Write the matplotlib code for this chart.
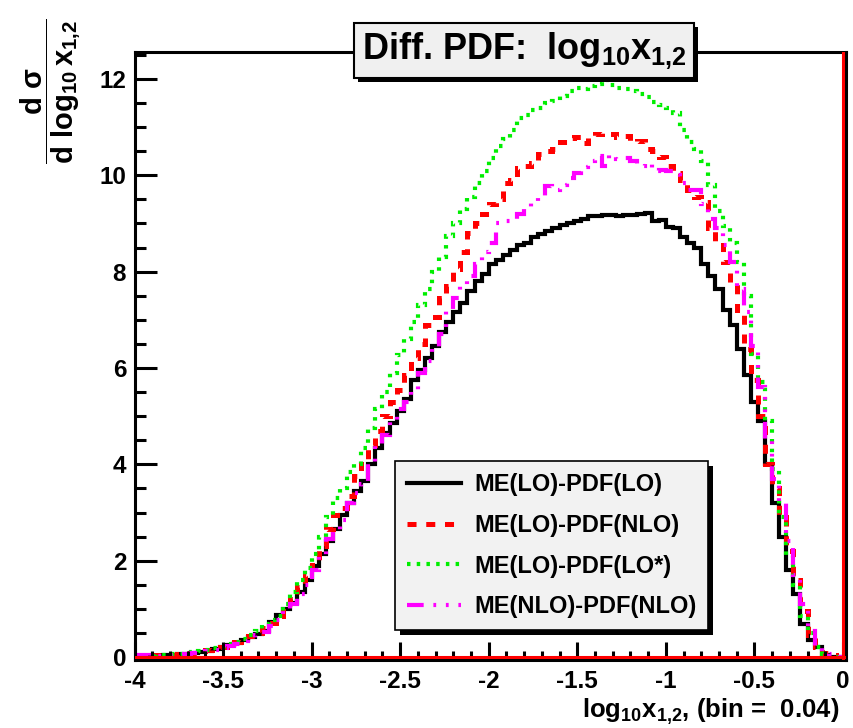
import numpy as np
import matplotlib
matplotlib.use("Agg")
import matplotlib.pyplot as plt
from matplotlib.lines import Line2D
from matplotlib.patches import Rectangle
from matplotlib.ticker import MultipleLocator, FormatStrFormatter
from matplotlib.transforms import IdentityTransform

# histogram range, 100 bins of 0.04
x_min, x_max, bin_width = -4.0, 0.0, 0.04

lo_lo = [0.02, 0.02, 0.03, 0.03, 0.04, 0.05, 0.06, 0.07, 0.09, 0.11, 0.13, 0.17, 0.22, 0.25, 0.30, 0.36, 0.42, 0.48, 0.55, 0.72, 0.88, 1.00, 1.12, 1.35,
         1.60, 1.90, 2.15, 2.40, 2.65, 2.95, 3.20, 3.45, 3.65, 4.00, 4.35, 4.65, 4.85, 5.10, 5.35, 5.75, 5.95, 6.20, 6.45, 6.75, 6.95, 7.17, 7.35, 7.60, 7.80, 7.95,
         8.15, 8.25, 8.35, 8.45, 8.55, 8.60, 8.72, 8.78, 8.85, 8.90, 8.97, 9.02, 9.06, 9.10, 9.15, 9.15, 9.17, 9.17, 9.15, 9.18, 9.17, 9.20, 9.22, 9.05, 9.08,
         8.92, 8.90, 8.72, 8.60, 8.50, 8.15, 7.90, 7.65, 7.20, 6.90, 6.40, 5.85, 5.30, 4.90, 4.00, 3.20, 2.50, 1.80, 1.30, 0.68, 0.35, 0.20, 0.05, 0.00, 0.00]

lo_nlo = [0.03, 0.02, 0.03, 0.04, 0.04, 0.05, 0.06, 0.08, 0.09, 0.12, 0.14, 0.17, 0.21, 0.26, 0.31, 0.35, 0.43, 0.50, 0.60, 0.70, 0.85, 1.05, 1.20, 1.45,
          1.70, 2.00, 2.30, 2.65, 2.95, 3.10, 3.35, 3.75, 4.10, 4.40, 4.70, 5.00, 5.30, 5.55, 5.85, 6.20, 6.50, 6.90, 7.05, 7.45, 7.70, 8.05, 8.40, 8.80, 9.00, 9.20,
          9.40, 9.50, 9.85, 9.90, 10.15, 10.20, 10.25, 10.45, 10.50, 10.55, 10.70, 10.78, 10.80, 10.68, 10.80, 10.85, 10.88, 10.85, 10.80, 10.82, 10.70, 10.72, 10.55, 10.50, 10.38,
          10.20, 10.05, 9.90, 9.70, 9.55, 9.45, 8.90, 8.55, 8.20, 7.75, 7.20, 6.40, 5.75, 5.00, 4.00, 3.50, 2.90, 2.20, 1.60, 0.95, 0.45, 0.20, 0.08, 0.05, 0.00]

lo_lostar = [0.02, 0.03, 0.03, 0.04, 0.05, 0.06, 0.07, 0.08, 0.10, 0.12, 0.15, 0.18, 0.22, 0.27, 0.32, 0.38, 0.45, 0.55, 0.68, 0.78, 0.85, 1.10, 1.35, 1.60,
             1.85, 2.15, 2.50, 2.90, 3.30, 3.50, 3.85, 4.00, 4.35, 4.75, 5.15, 5.50, 5.90, 6.27, 6.60, 6.95, 7.30, 7.65, 8.00, 8.30, 8.75, 9.00, 9.30, 9.55, 9.85, 10.10,
             10.35, 10.60, 10.75, 10.95, 11.20, 11.25, 11.35, 11.40, 11.50, 11.55, 11.65, 11.75, 11.82, 11.80, 11.85, 11.90, 11.98, 11.88, 11.82, 11.80, 11.75, 11.68, 11.62, 11.52, 11.45,
             11.40, 11.30, 10.95, 10.70, 10.55, 10.30, 9.80, 9.25, 8.95, 8.60, 8.20, 7.50, 6.30, 5.70, 4.90, 3.90, 2.90, 2.10, 1.50, 0.85, 0.50, 0.20, 0.06, 0.02, 0.00]

nlo_nlo = [0.05, 0.04, 0.03, 0.03, 0.04, 0.05, 0.05, 0.07, 0.08, 0.10, 0.12, 0.15, 0.19, 0.23, 0.28, 0.33, 0.40, 0.45, 0.52, 0.65, 0.78, 0.95, 1.10, 1.30,
           1.50, 1.80, 2.10, 2.45, 2.60, 2.85, 3.20, 3.40, 3.60, 4.00, 4.40, 4.60, 4.90, 5.15, 5.30, 5.55, 5.90, 6.15, 6.40, 6.70, 7.20, 7.45, 7.70, 7.90, 8.15, 8.40,
           8.60, 9.00, 9.05, 9.10, 9.20, 9.30, 9.45, 9.55, 9.77, 9.70, 9.80, 9.95, 10.05, 10.17, 10.30, 10.40, 10.20, 10.43, 10.33, 10.35, 10.30, 10.20, 10.25, 10.10, 10.12,
           10.10, 10.00, 9.85, 9.70, 9.70, 9.40, 9.10, 8.90, 8.55, 8.20, 7.65, 7.17, 6.45, 5.60, 4.50, 3.70, 3.20, 2.40, 1.70, 1.10, 0.55, 0.20, 0.08, 0.06, 0.00]

labels = ["ME(LO)-PDF(LO)", "ME(LO)-PDF(NLO)", "ME(LO)-PDF(LO*)", "ME(NLO)-PDF(NLO)"]
series = [lo_lo, lo_nlo, lo_lostar, nlo_nlo]

styles = [
    dict(color="black", lw=3.0, ls="-"),
    dict(color="red", lw=3.6, ls=(0, (6.5, 7))),
    dict(color="#00ee00", lw=3.0, ls=(0, (2.5, 4.5))),
    dict(color="magenta", lw=3.0, ls=(0, (12, 7, 2, 7, 2, 7))),
]

plt.rcParams["font.family"] = ["Liberation Sans", "DejaVu Sans"]
plt.rcParams["font.weight"] = "bold"
plt.rcParams["axes.unicode_minus"] = False
plt.rcParams["lines.scale_dashes"] = False
plt.rcParams["mathtext.fontset"] = "custom"
plt.rcParams["mathtext.rm"] = "Liberation Sans:bold"
plt.rcParams["mathtext.it"] = "Liberation Sans:bold"
plt.rcParams["mathtext.bf"] = "Liberation Sans:bold"

fig = plt.figure(figsize=(8.54, 7.28), dpi=100)
ax = fig.add_axes([0.1575, 0.0934, 0.8337, 0.8352])

edges = np.linspace(x_min, x_max, len(lo_lo) + 1)
for vals, st in zip(series, styles):
    ax.stairs(vals, edges, color=st["color"], linewidth=st["lw"], linestyle=st["ls"])

# red histogram frame line along zero and right edge
ax.axhline(0, color="red", lw=2.2, zorder=3)
ax.axvline(0, color="red", lw=2.2, zorder=3)

ax.set_xlim(-4, 0.02)
ax.set_ylim(-0.06, 12.56)
ax.xaxis.set_major_locator(MultipleLocator(0.5))
ax.xaxis.set_minor_locator(MultipleLocator(0.1))
ax.xaxis.set_major_formatter(FormatStrFormatter("%g"))
ax.yaxis.set_major_locator(MultipleLocator(2))
ax.yaxis.set_minor_locator(MultipleLocator(0.5))
ax.yaxis.set_major_formatter(FormatStrFormatter("%g"))
ax.tick_params(axis="x", which="major", direction="in", length=13, width=2.2, labelsize=17.5, pad=7)
ax.tick_params(axis="x", which="minor", direction="in", length=6.5, width=2.2)
ax.tick_params(axis="y", which="major", direction="in", length=16, width=2.2, labelsize=17.5, pad=6)
ax.tick_params(axis="y", which="minor", direction="in", length=8, width=2.2)
for lab in ax.get_xticklabels() + ax.get_yticklabels():
    lab.set_fontweight("bold")
for sp in ax.spines.values():
    sp.set_linewidth(2.2)

ax.set_xlabel(r"log$_{10}$x$_{1{,}2}$, (bin =  0.04)", fontsize=18.5, fontweight="bold", ha="right")
ax.xaxis.set_label_coords(0.99, -0.06)
fig.text(0.060, 0.874, r"$\dfrac{d\ \sigma}{d\ \log_{10}x_{1{,}2}}$", rotation=90,
         ha="center", va="center", fontsize=21)

handles = [Line2D([], [], color=st["color"], lw=st["lw"], ls=st["ls"]) for st in styles]
leg = ax.legend(handles, labels, loc="lower left", bbox_to_anchor=(0.366, 0.049), borderaxespad=0,
                fancybox=False, edgecolor="black", facecolor="#f2f2f2", framealpha=1,
                prop={"weight": "bold", "size": 17}, handlelength=2.3, handletextpad=0.55,
                labelspacing=0.75, borderpad=0.5)
leg.get_frame().set_linewidth(1.2)

title = fig.text(0.6136, 0.931, r"Diff. PDF:  log$_{10}$x$_{1{,}2}$", ha="center", va="center",
                 fontsize=26, fontweight="bold",
                 bbox=dict(boxstyle="square,pad=0.2", fc="#f0f0f0", ec="black", lw=1.5))

# black drop shadows, like ROOT boxes
fig.canvas.draw()
bb = leg.get_window_extent()
ax.add_artist(Rectangle((bb.x0 + 5, bb.y0 - 5), bb.width, bb.height, transform=IdentityTransform(),
                        fc="black", ec="none", zorder=4.9, clip_on=False))
tb = title.get_bbox_patch().get_window_extent()
fig.add_artist(Rectangle((tb.x0 + 4, tb.y0 - 4), tb.width, tb.height, transform=IdentityTransform(),
                         fc="black", ec="none", zorder=2.9))

fig.savefig("out.png", dpi=100)
